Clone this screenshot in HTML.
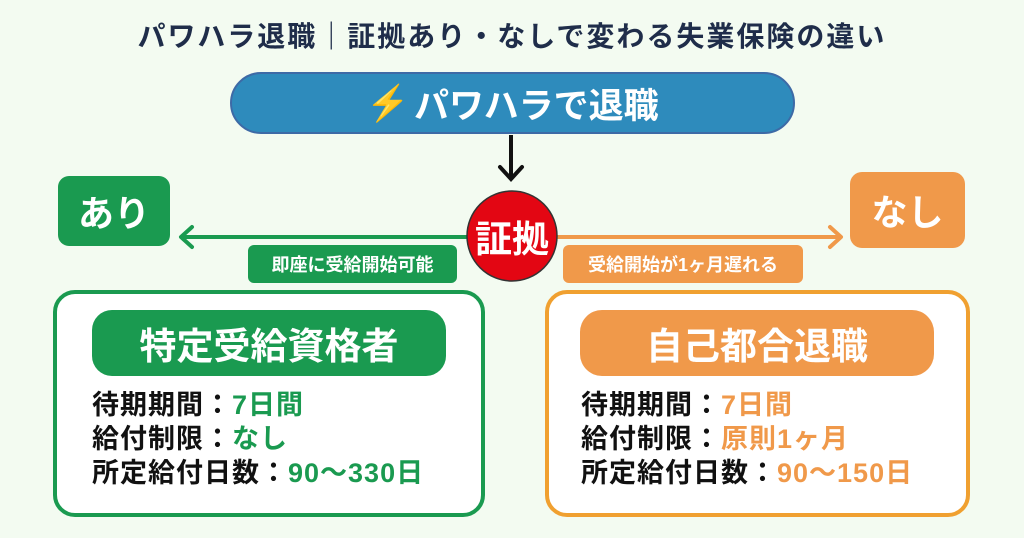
<!DOCTYPE html>
<html><head><meta charset="utf-8"><style>
*{margin:0;padding:0;box-sizing:border-box}
body{width:1024px;height:538px;background:#f3fbf1;position:relative;overflow:hidden;font-family:"Liberation Sans","Noto Sans CJK JP",sans-serif;font-weight:bold}
.a{position:absolute}
.c{display:flex;align-items:center;justify-content:center;color:#fff}
.t{font-size:27px;line-height:34px;color:#111;white-space:nowrap;letter-spacing:1px}
.g{color:#1a9a50}.o{color:#f0994a}
</style></head><body>
<div class="a" style="left:0;top:15px;width:1024px;text-align:center;font-size:28px;color:#1f2d4a;letter-spacing:2px">パワハラ退職｜証拠あり・なしで変わる失業保険の違い</div>
<div class="a c" style="left:230px;top:72px;width:565px;height:62px;border-radius:31px;background:#2e8bbc;border:2px solid #3d6aa6;font-size:35px"><span style="color:#f7c600;margin-right:4px">⚡</span>パワハラで退職</div>
<svg class="a" style="left:0;top:0" width="1024" height="538">
<line x1="511" y1="135" x2="511" y2="178" stroke="#111" stroke-width="4"/>
<polyline points="500,167 511,179 522,167" fill="none" stroke="#111" stroke-width="4" stroke-linecap="round"/>
<line x1="182" y1="237" x2="470" y2="237" stroke="#1a9a50" stroke-width="4"/>
<polyline points="192,227 181,237 192,247" fill="none" stroke="#1a9a50" stroke-width="4" stroke-linecap="round" stroke-linejoin="round"/>
<line x1="555" y1="237" x2="840" y2="237" stroke="#f0994a" stroke-width="4"/>
<polyline points="830,227 841,237 830,247" fill="none" stroke="#f0994a" stroke-width="4" stroke-linecap="round" stroke-linejoin="round"/>
<circle cx="512" cy="236" r="45" fill="#e30613" stroke="#333" stroke-width="1.5"/>
</svg>
<div class="a c" style="left:462px;top:191px;width:100px;height:90px;font-size:37px">証拠</div>
<div class="a c" style="left:58px;top:176px;width:112px;height:70px;border-radius:11px;background:#1a9a50;font-size:36px">あり</div>
<div class="a c" style="left:850px;top:172px;width:115px;height:76px;border-radius:12px;background:#f0994a;font-size:36px">なし</div>
<div class="a c" style="left:248px;top:245px;width:209px;height:38px;border-radius:6px;background:#1a9a50;font-size:18px">即座に受給開始可能</div>
<div class="a c" style="left:563px;top:245px;width:240px;height:38px;border-radius:6px;background:#f0994a;font-size:18px">受給開始が1ヶ月遅れる</div>
<div class="a" style="left:53px;top:290px;width:432px;height:227px;border:4px solid #1a9a50;border-radius:22px;background:#fff"></div>
<div class="a c" style="left:92px;top:310px;width:354px;height:66px;border-radius:20px;background:#1a9a50;font-size:37px">特定受給資格者</div>
<div class="a t" style="left:92px;top:388px">待期期間：<span class="g">7日間</span><br>給付制限：<span class="g">なし</span><br>所定給付日数：<span class="g">90〜330日</span></div>
<div class="a" style="left:545px;top:290px;width:425px;height:227px;border:4px solid #f0a030;border-radius:22px;background:#fff"></div>
<div class="a c" style="left:580px;top:310px;width:354px;height:66px;border-radius:22px;background:#f0994a;font-size:37px">自己都合退職</div>
<div class="a t" style="left:581px;top:388px">待期期間：<span class="o">7日間</span><br>給付制限：<span class="o">原則1ヶ月</span><br>所定給付日数：<span class="o">90〜150日</span></div>
</body></html>
